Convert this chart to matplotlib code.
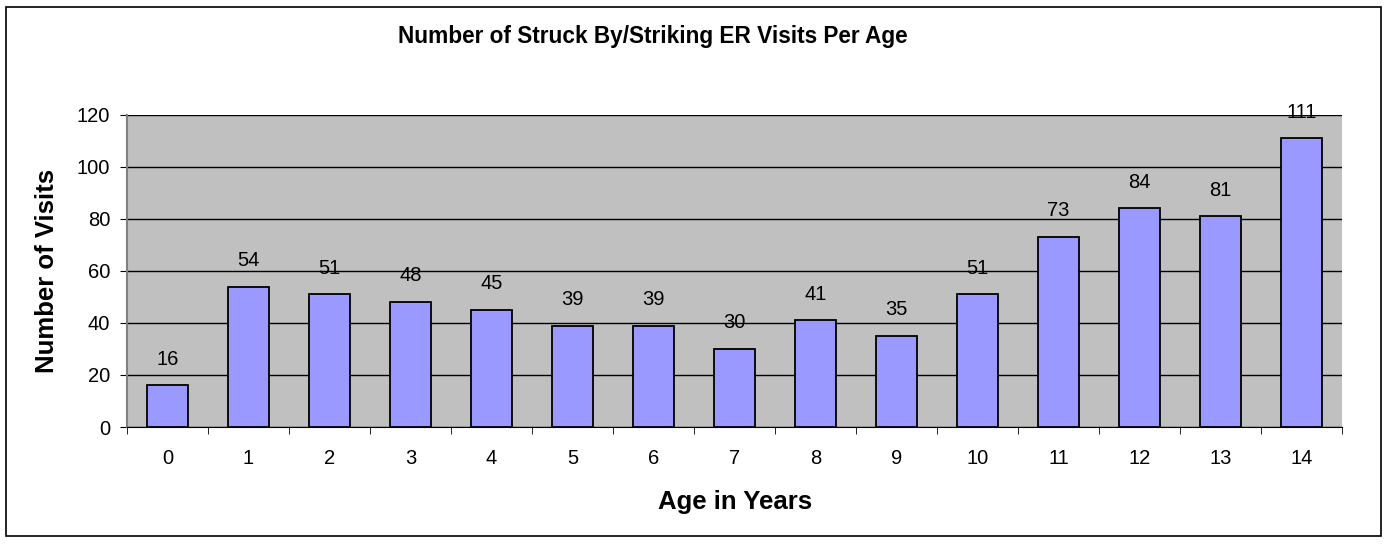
import numpy as np
import matplotlib
matplotlib.use('Agg')
import matplotlib.pyplot as plt
from matplotlib.patches import Rectangle

plt.rcParams['font.family'] = ['Liberation Sans', 'DejaVu Sans']

# Data
ages = ['0', '1', '2', '3', '4', '5', '6', '7', '8', '9', '10', '11', '12', '13', '14']
visits = [16, 54, 51, 48, 45, 39, 39, 30, 41, 35, 51, 73, 84, 81, 111]
y_ticks = [0, 20, 40, 60, 80, 100, 120]

fig = plt.figure(figsize=(13.88, 5.44), dpi=100)
ax = fig.add_axes([0.0915, 0.215, 0.8755, 0.574])

# outer chart border
fig.patches.append(Rectangle((0.004, 0.015), 0.991, 0.972, transform=fig.transFigure,
                             fill=False, edgecolor='black', linewidth=1.2))

ax.set_facecolor('#C0C0C0')
x = np.arange(len(ages))
bars = ax.bar(x, visits, width=0.5, color='#9999FF', edgecolor='black', linewidth=1.3, zorder=3)

for xi, v in zip(x, visits):
    ax.annotate(str(v), (xi, v), xytext=(0, 12), textcoords='offset points',
                ha='center', va='bottom', fontsize=14.5, zorder=4)

ax.set_xlim(-0.5, len(ages) - 0.5)
ax.set_ylim(0, 120)
ax.set_yticks(y_ticks)
ax.yaxis.grid(True, color='black', linewidth=1)
ax.set_axisbelow(True)

ax.set_xticks(x)
ax.set_xticklabels(ages, fontsize=14.5)
ax.set_xticks(np.arange(-0.5, len(ages)), minor=True)
ax.tick_params(axis='x', which='major', length=0, pad=16)
ax.tick_params(axis='x', which='minor', length=5, direction='out', color='black')
ax.tick_params(axis='y', labelsize=14.5, length=5, direction='out', pad=7)

for side in ['top', 'right']:
    ax.spines[side].set_visible(False)
ax.spines['left'].set_color('#808080')
ax.spines['left'].set_linewidth(1.5)
ax.spines['bottom'].set_color('black')

# chart title centred on the chart area (Excel style)
fig.text(0.470, 0.932, 'Number of Struck By/Striking ER Visits Per Age', fontsize=16.3,
         fontweight='bold', ha='center', va='center')
ax.set_xlabel('Age in Years', fontsize=18.5, fontweight='bold', labelpad=16)
ax.set_ylabel('Number of Visits', fontsize=18.5, fontweight='bold', labelpad=13)

plt.savefig('out.png', dpi=100)
